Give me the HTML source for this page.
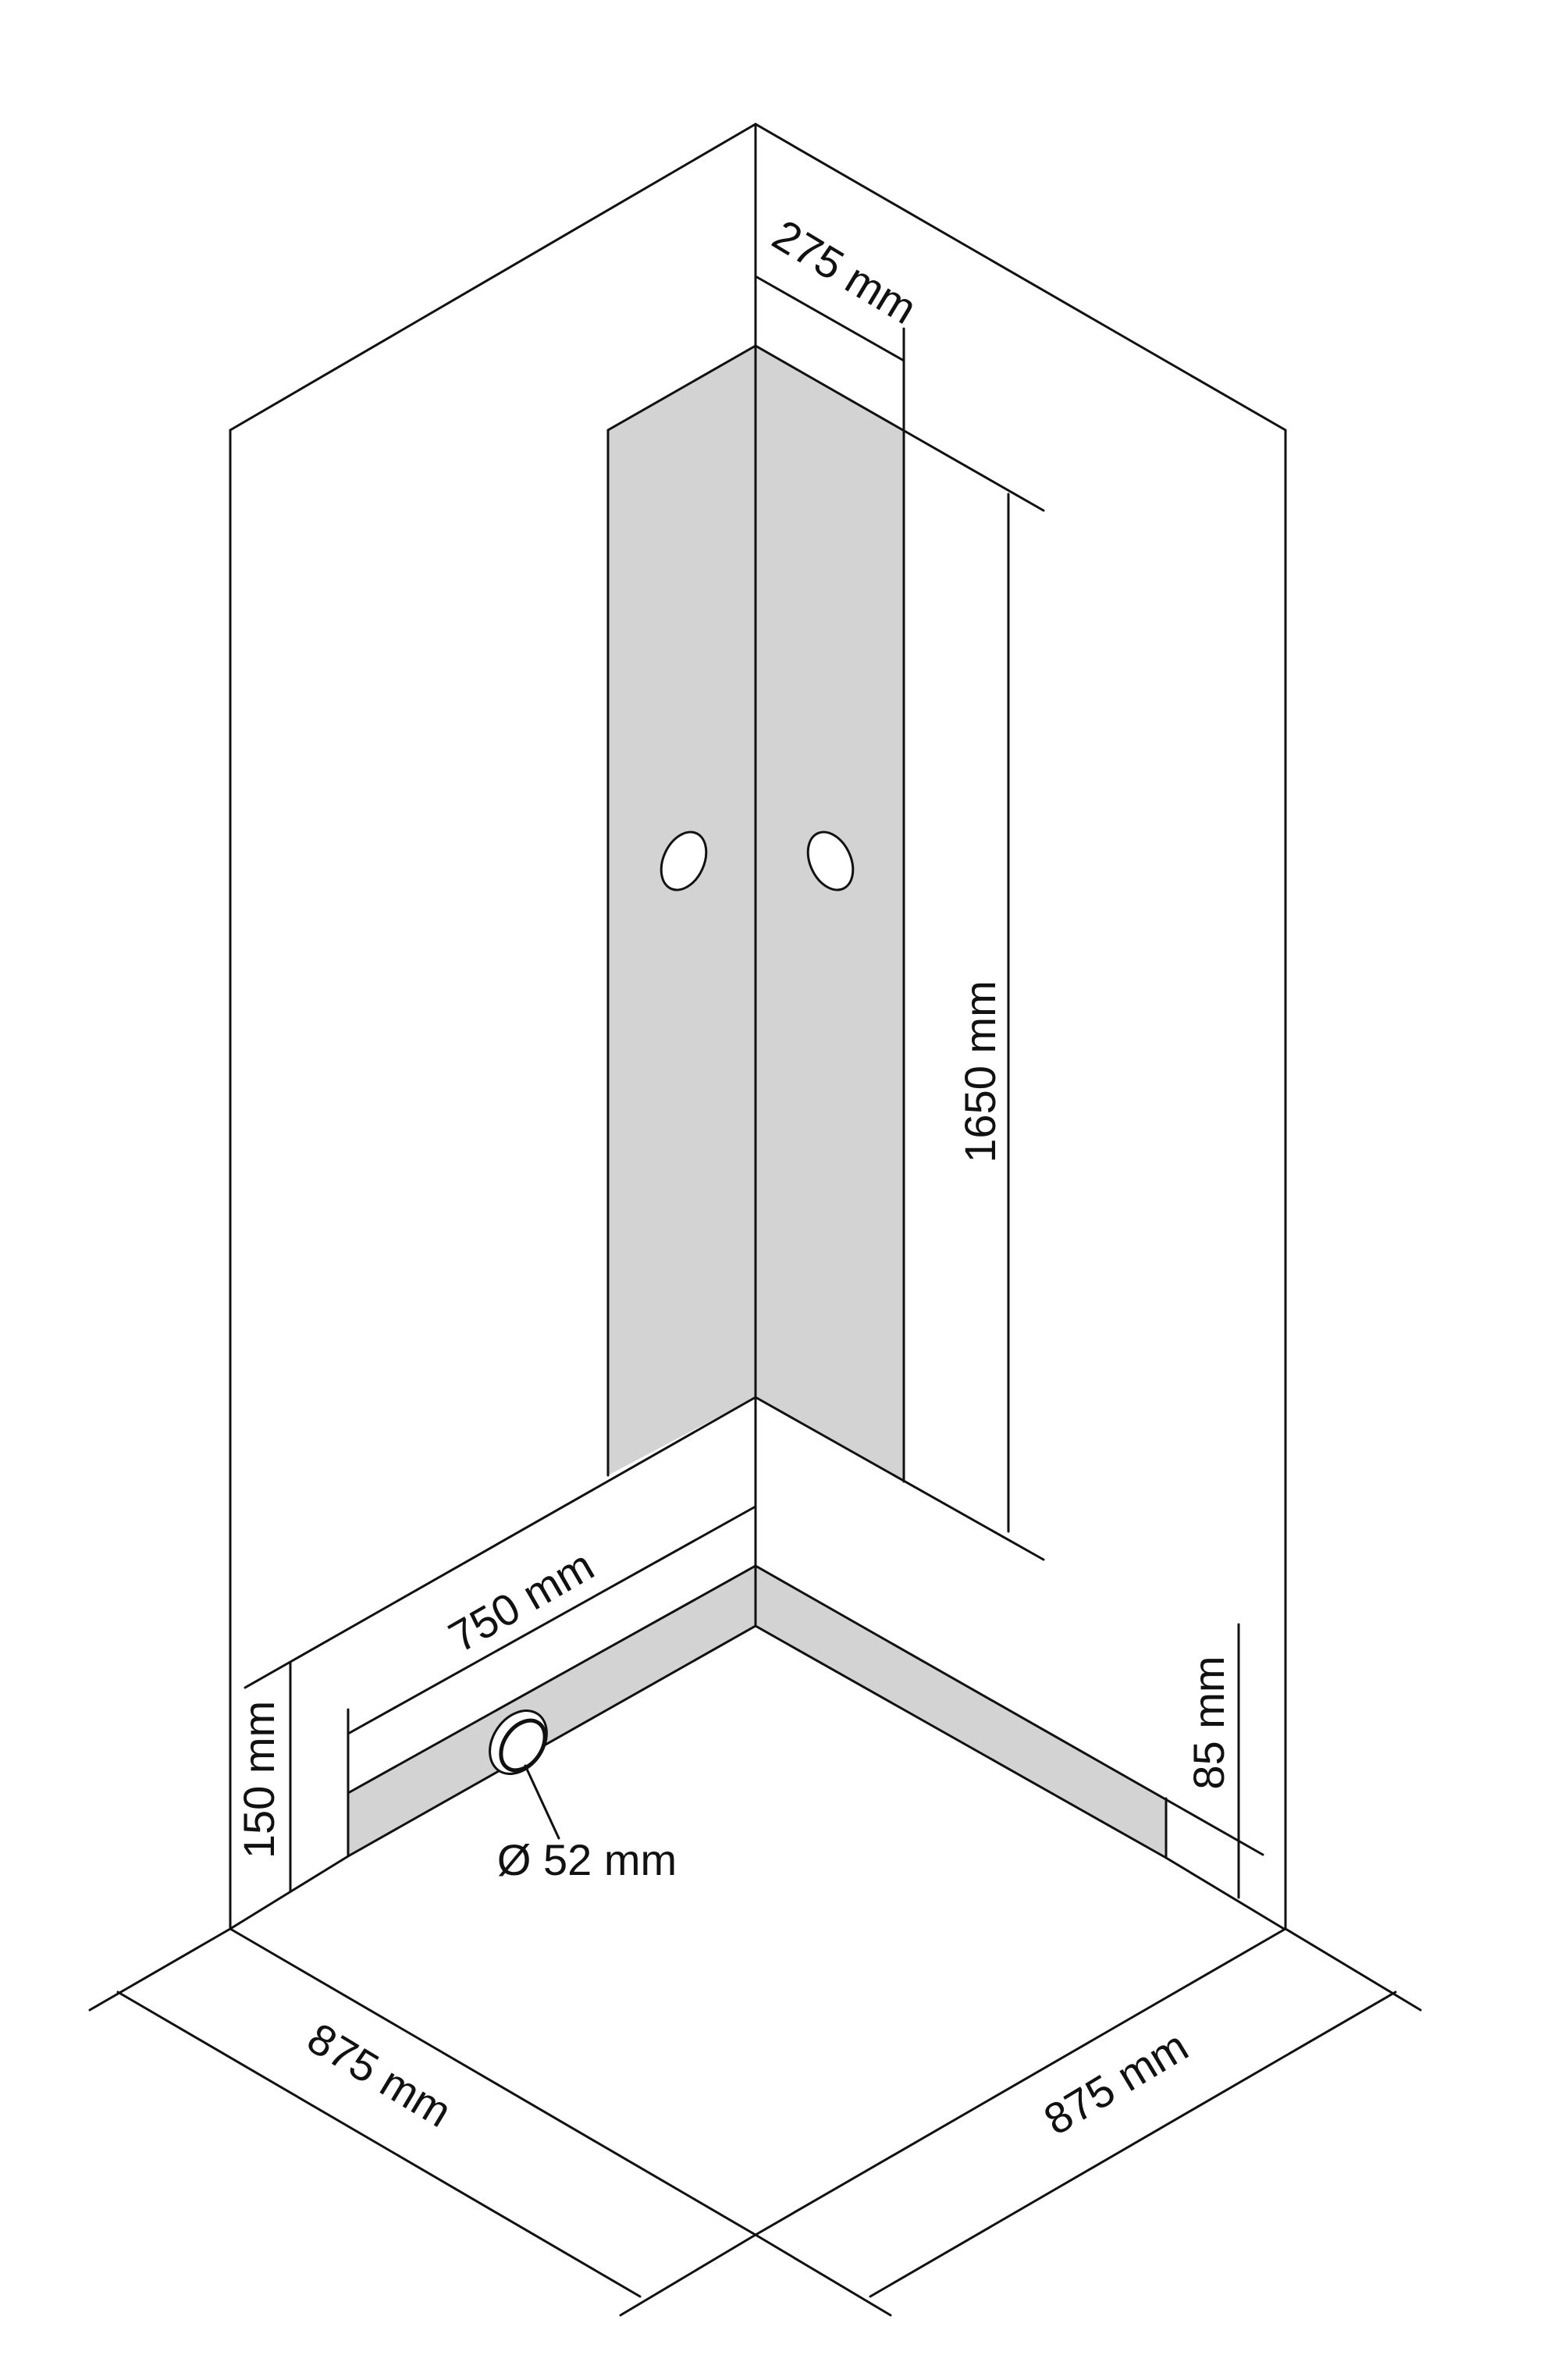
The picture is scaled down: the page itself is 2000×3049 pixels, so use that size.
<!DOCTYPE html>
<html><head><meta charset="utf-8"><style>
html,body{margin:0;padding:0;background:#fff}
svg{display:block}
text{font-family:"Liberation Sans",sans-serif;font-size:56px;fill:#111}
</style></head><body>
<svg width="2000" height="3049" viewBox="0 0 2000 3049" xmlns="http://www.w3.org/2000/svg">
<g fill="#d3d3d3" stroke="none">
<polygon points="968,443 779,551 779,1890 968,1790"/>
<polygon points="968,443 1158,551 1158,1898 968,1790"/>
<polygon points="968,2006 968,2083 446,2378 446,2297"/>
<polygon points="968,2006 1494,2304 1494,2380 968,2083"/>
</g>
<g fill="none" stroke="#111" stroke-width="3" stroke-linecap="round">
<polyline points="295,2471 295,551 968,159 1647,551 1647,2471"/>
<line x1="968" y1="159" x2="968" y2="2083"/>
<polyline points="779,1890 779,551 968,443 1337,654"/>
<line x1="1158" y1="421" x2="1158" y2="1898"/>
<line x1="968" y1="354" x2="1158" y2="462"/>
<line x1="1292" y1="633" x2="1292" y2="1962"/>
<line x1="968" y1="1790" x2="1337" y2="1998"/>
<line x1="968" y1="1790" x2="314" y2="2162"/>
<line x1="372" y1="2130" x2="372" y2="2422"/>
<line x1="968" y1="1930" x2="446" y2="2221"/>
<line x1="446" y1="2190" x2="446" y2="2378"/>
<polyline points="295,2471 446,2378 968,2083 1494,2380 1645,2471"/>
<polyline points="446,2297 968,2006 1618,2376"/>
<line x1="1494" y1="2304" x2="1494" y2="2380"/>
<line x1="1587" y1="2081" x2="1587" y2="2431"/>
<polyline points="295,2471 968,2863 1647,2471"/>
<line x1="295" y1="2471" x2="115" y2="2575"/>
<line x1="968" y1="2863" x2="795" y2="2966"/>
<line x1="968" y1="2863" x2="1141" y2="2966"/>
<line x1="1647" y1="2471" x2="1820" y2="2575"/>
<line x1="151" y1="2552" x2="820" y2="2942"/>
<line x1="1115" y1="2942" x2="1788" y2="2552"/>
<ellipse cx="876" cy="1103" rx="26" ry="39" transform="rotate(25 876 1103)" fill="#fff"/>
<ellipse cx="1064" cy="1103" rx="26" ry="39" transform="rotate(-25 1064 1103)" fill="#fff"/>
<ellipse cx="664" cy="2232" rx="32" ry="44" transform="rotate(35 664 2232)" fill="#fff"/>
<ellipse cx="670" cy="2236" rx="24" ry="35" transform="rotate(35 670 2236)" stroke-width="5"/>
<line x1="673" y1="2262" x2="716" y2="2355"/>
</g>
<text x="1080" y="352" text-anchor="middle" dominant-baseline="middle" transform="rotate(31 1080 352)">275 mm</text>
<text x="1260" y="1373" text-anchor="middle" dominant-baseline="middle" transform="rotate(-90 1260 1373)">1650 mm</text>
<text x="670" y="2055" text-anchor="middle" dominant-baseline="middle" transform="rotate(-30 670 2055)">750 mm</text>
<text x="336" y="2280" text-anchor="middle" dominant-baseline="middle" transform="rotate(-90 336 2280)">150 mm</text>
<text x="1553" y="2207" text-anchor="middle" dominant-baseline="middle" transform="rotate(-90 1553 2207)">85 mm</text>
<text x="752" y="2387" text-anchor="middle" dominant-baseline="middle">Ø 52 mm</text>
<text x="484" y="2662" text-anchor="middle" dominant-baseline="middle" transform="rotate(31 484 2662)">875 mm</text>
<text x="1432" y="2672" text-anchor="middle" dominant-baseline="middle" transform="rotate(-31 1432 2672)">875 mm</text>
</svg>
</body></html>
